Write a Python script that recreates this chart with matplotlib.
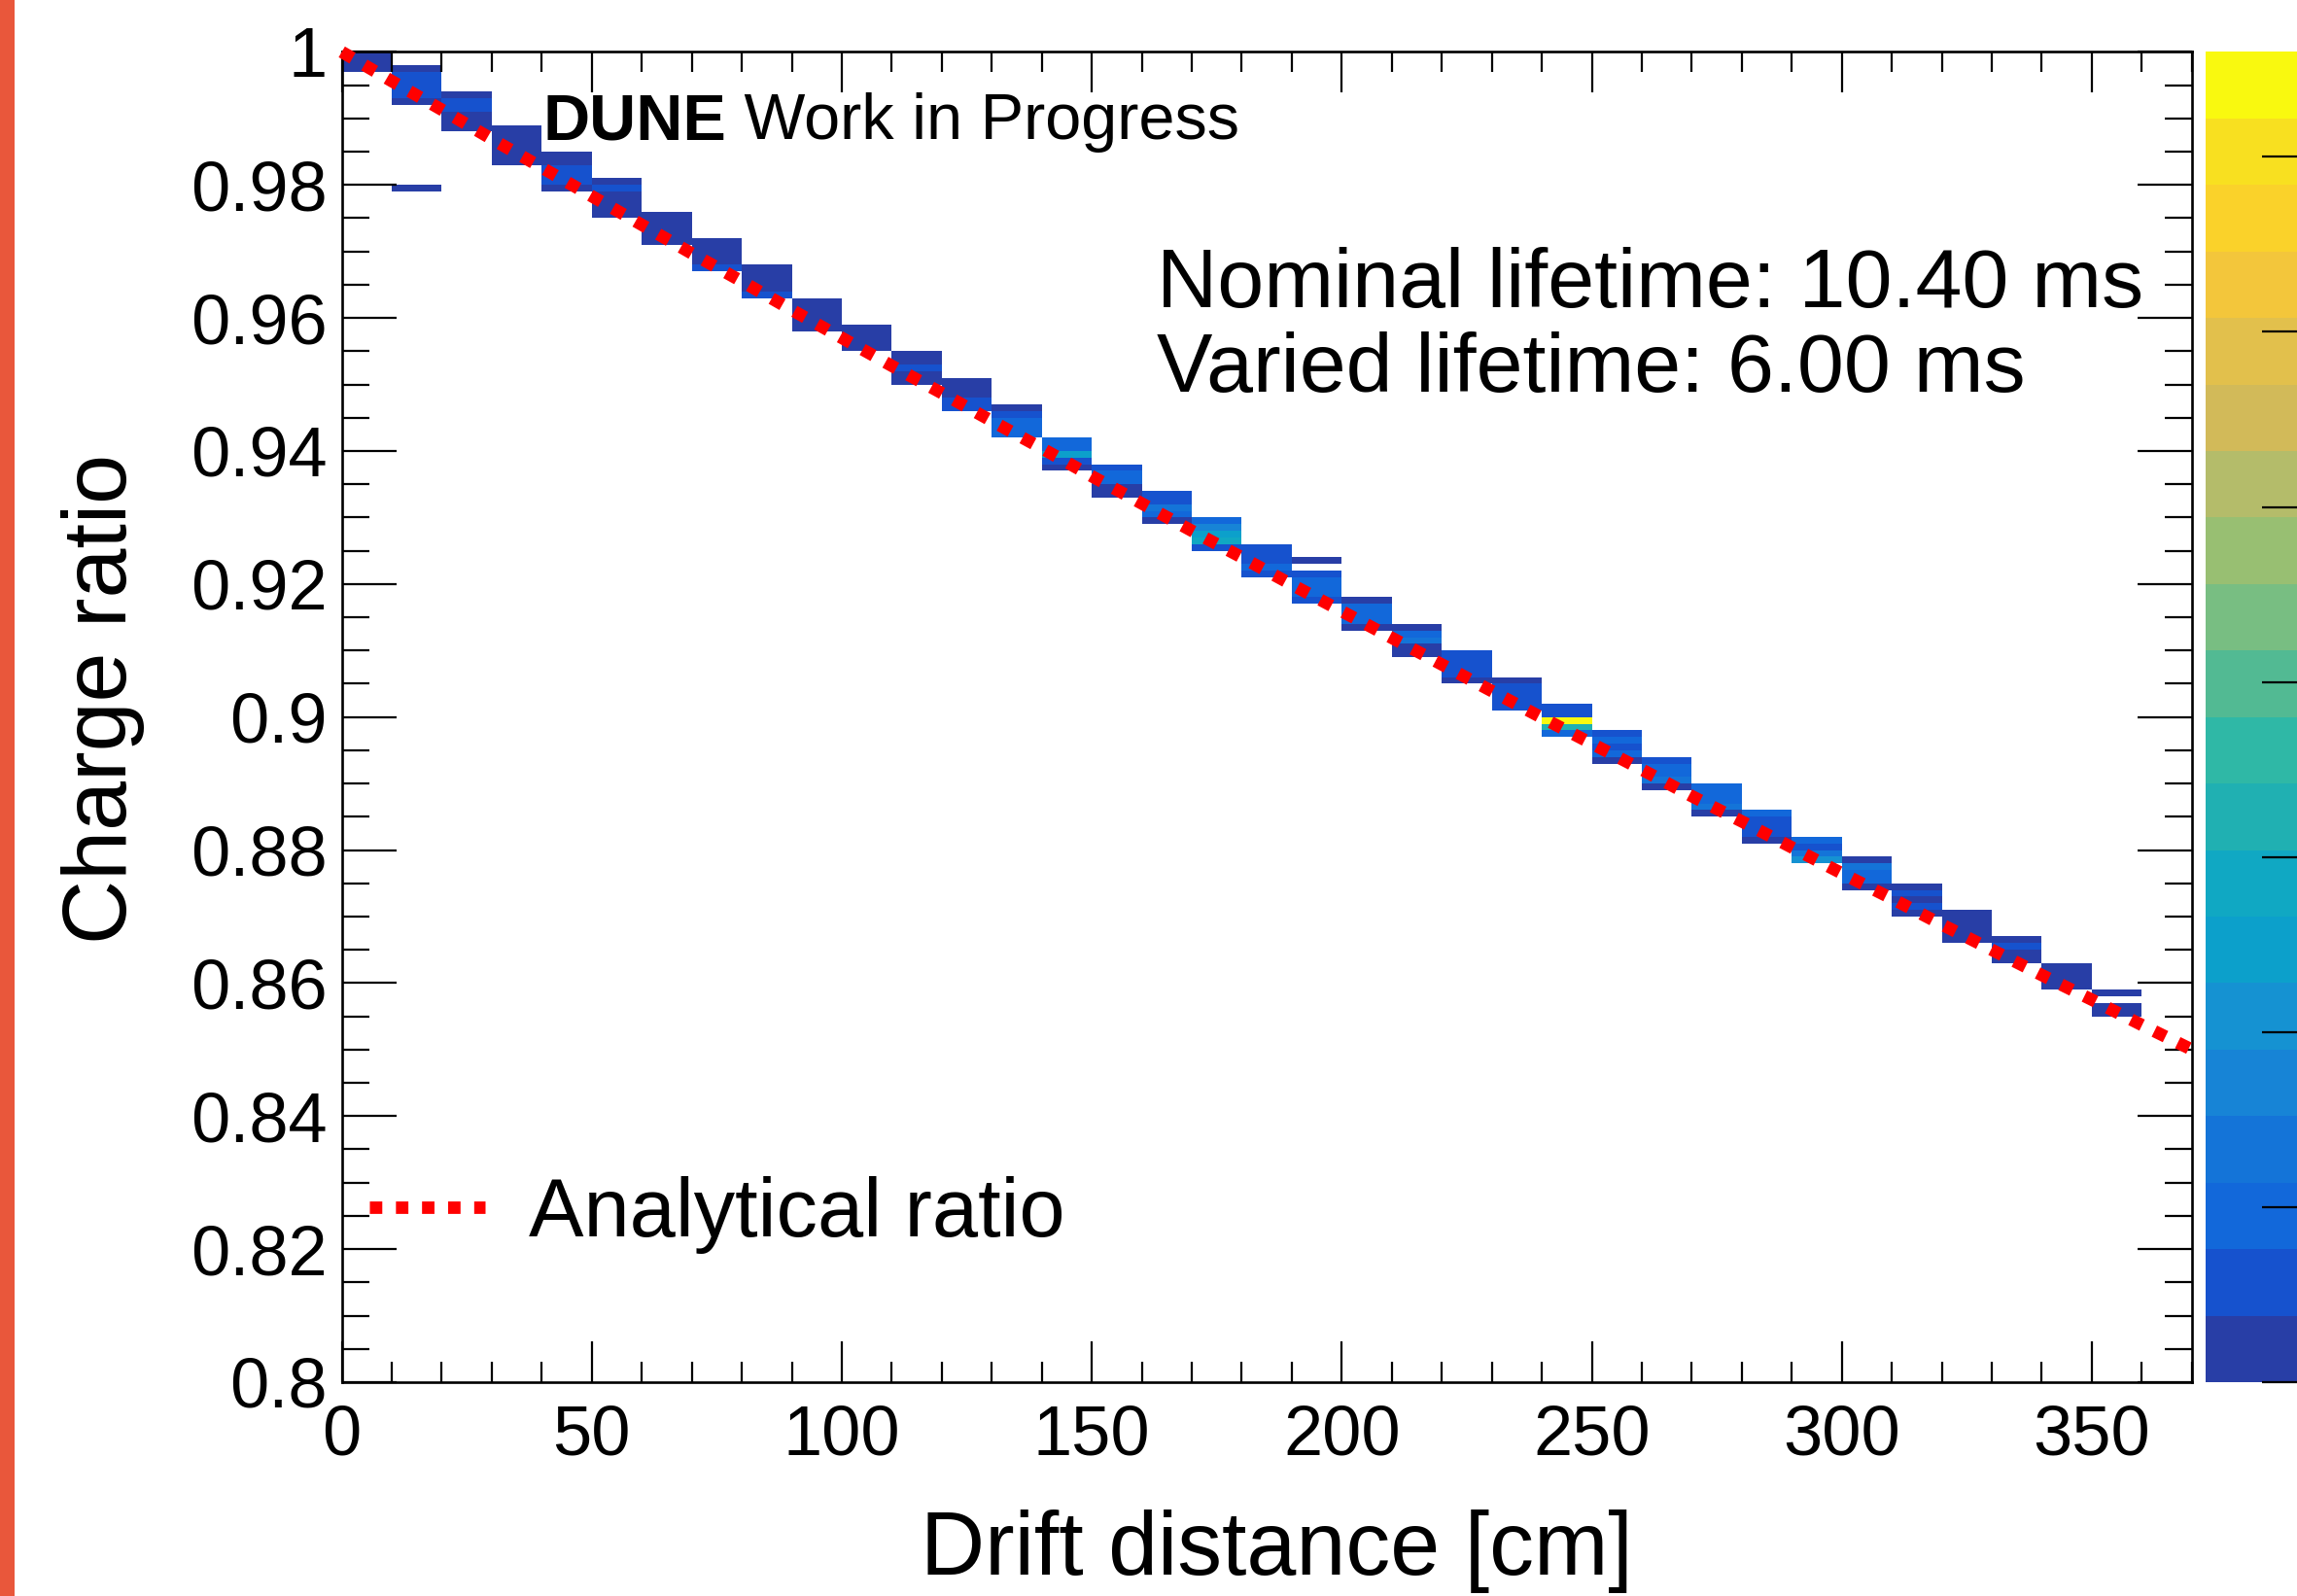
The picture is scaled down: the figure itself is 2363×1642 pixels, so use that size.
#!/usr/bin/env python3
"""Charge ratio vs drift distance (COLZ-style 2D histogram + analytical curve)."""

import numpy as np
import matplotlib
matplotlib.use("Agg")
import matplotlib.pyplot as plt
from matplotlib.colors import ListedColormap, BoundaryNorm
from matplotlib.ticker import FixedLocator, FuncFormatter
from matplotlib.patches import Rectangle

plt.rcParams["font.family"] = ["Liberation Sans", "DejaVu Sans"]

# ============================================================
#  data
# ============================================================
X_BIN_W = 10.0          # cm per x column
Y_BIN_W = 0.001         # charge ratio per y bin
X_RANGE = (0.0, 370.0)
Y_RANGE = (0.8, 1.0)

# top edge of the filled y range for each 10 cm column (0-10, 10-20, ...)
COL_TOP = [1.000, 0.998, 0.994, 0.989, 0.985, 0.981, 0.976, 0.972, 0.968,
           0.963, 0.959, 0.955, 0.951, 0.947, 0.942, 0.938, 0.934, 0.930,
           0.926, 0.924, 0.918, 0.914, 0.910, 0.906, 0.902, 0.898, 0.894,
           0.890, 0.886, 0.882, 0.879, 0.875, 0.871, 0.867, 0.863, 0.859]
# entries per y bin, from the top edge downwards
COL_COUNTS = [
    [1, 1, 1], [1, 2, 2, 2, 2, 1], [1, 2, 2, 1, 1, 1], [1, 1, 1, 1, 1, 1],
    [1, 1, 2, 2, 2, 1], [1, 2, 1, 1, 1, 1], [1, 1, 1, 1, 1], [1, 1, 1, 1, 2],
    [1, 1, 1, 1, 2], [1, 1, 1, 1, 1], [1, 1, 1, 1], [1, 1, 2, 1, 1],
    [1, 1, 1, 2, 2], [1, 2, 4, 4, 4], [4, 4, 13, 2, 1], [2, 4, 5, 1, 1],
    [2, 3, 6, 4, 1], [4, 8, 12, 14, 2], [2, 2, 2, 4, 2], [1, 0, 2, 4, 4, 4, 2],
    [1, 4, 4, 4, 1], [1, 4, 6, 1, 1], [2, 2, 2, 2, 1], [1, 2, 2, 2, 2],
    [2, 3, 38, 16, 4], [2, 4, 2, 4, 1], [2, 4, 5, 6, 1], [4, 5, 4, 6, 1],
    [4, 2, 2, 2, 1], [4, 2, 6, 10], [1, 6, 4, 4, 1], [1, 2, 1, 2, 1],
    [1, 1, 1, 1, 1], [1, 2, 1, 1], [1, 1, 1, 1], [1, 0, 1, 1],
]
# isolated cells: (x low edge [cm], y top edge, entries)
EXTRA_CELLS = [(10.0, 0.980, 1)]
Z_MAX = 38.0

# analytical ratio (red dotted curve)
ANALYTIC_X = [0, 10, 20, 30, 40, 50, 60, 70, 80, 90, 100, 110, 120, 130, 140,
              150, 160, 170, 180, 190, 200, 210, 220, 230, 240, 250, 260, 270,
              280, 290, 300, 310, 320, 330, 340, 350, 360, 370]
ANALYTIC_RATIO = [1.0000, 0.9956, 0.9913, 0.9869, 0.9826, 0.9783, 0.9740,
                  0.9697, 0.9655, 0.9612, 0.9570, 0.9528, 0.9487, 0.9445,
                  0.9404, 0.9362, 0.9321, 0.9280, 0.9240, 0.9199, 0.9159,
                  0.9119, 0.9079, 0.9039, 0.8999, 0.8960, 0.8921, 0.8881,
                  0.8843, 0.8804, 0.8765, 0.8727, 0.8688, 0.8650, 0.8612,
                  0.8575, 0.8537, 0.8500]

NOMINAL_LT = 10.40
VARIED_LT = 6.00

# ROOT kBird palette, 20 contour levels (bottom -> top)
PALETTE = ["#283EA6", "#1652CE", "#1268DA", "#1474D8", "#1784D6", "#1592D2",
           "#0CA0CB", "#10A8C3", "#20B0B2", "#2FB8A6", "#52BA93", "#78BE82",
           "#98BF72", "#B4BC6A", "#D2BA59", "#E2C04C", "#F3C63B", "#FAD22A",
           "#F8E020", "#F9F90F"]

# ============================================================
#  build the histogram
# ============================================================
nx = int(round((X_RANGE[1] - X_RANGE[0]) / X_BIN_W))
ny = int(round((Y_RANGE[1] - Y_RANGE[0]) / Y_BIN_W))
xedges = np.linspace(X_RANGE[0], X_RANGE[1], nx + 1)
yedges = np.linspace(Y_RANGE[0], Y_RANGE[1], ny + 1)
H = np.zeros((ny, nx))


def fill(ix, top, counts):
    jtop = int(round((top - Y_RANGE[0]) / Y_BIN_W))
    for k, c in enumerate(counts):
        H[jtop - 1 - k, ix] += c


for ix, (top, counts) in enumerate(zip(COL_TOP, COL_COUNTS)):
    fill(ix, top, counts)
for x0, top, c in EXTRA_CELLS:
    fill(int(round(x0 / X_BIN_W)), top, [c])

Hm = np.ma.masked_equal(H, 0)   # empty bins are not drawn

# ============================================================
#  figure
# ============================================================
fig = plt.figure(figsize=(23.63, 16.42), dpi=100)
# orange strip on the left edge of the slide
fig.patches.append(Rectangle((0, 0), 15 / 2363, 1, transform=fig.transFigure,
                             facecolor="#E9573B", edgecolor="none", zorder=0))

ax = fig.add_axes([0.1488, 0.134, 0.8054, 0.8335])
cmap = ListedColormap(PALETTE)
cmap.set_over(PALETTE[-1])
norm = BoundaryNorm(np.linspace(0, Z_MAX, len(PALETTE) + 1), len(PALETTE))
mesh = ax.pcolormesh(xedges, yedges, Hm, cmap=cmap, norm=norm,
                     edgecolors="none", zorder=1)

line, = ax.plot(ANALYTIC_X, ANALYTIC_RATIO, color="red", lw=9.2,
                dashes=(1.0, 1.1), dash_capstyle="butt", clip_on=False,
                zorder=3, label="Analytical ratio")

ax.set_xlim(*X_RANGE)
ax.set_ylim(*Y_RANGE)
ax.xaxis.set_major_locator(FixedLocator(np.arange(0, 351, 50)))
ax.xaxis.set_minor_locator(FixedLocator(np.arange(0, 371, 10)))
ax.yaxis.set_major_locator(FixedLocator(np.round(np.arange(0.8, 1.0001, 0.02), 3)))
ax.yaxis.set_minor_locator(FixedLocator(np.round(np.arange(0.8, 1.0001, 0.005), 4)))
fmt = FuncFormatter(lambda v, p: f"{v:g}")
ax.xaxis.set_major_formatter(fmt)
ax.yaxis.set_major_formatter(fmt)
ax.tick_params(axis="x", which="major", direction="in", length=30, width=1.6,
               top=True, labelsize=52, pad=16)
ax.tick_params(axis="x", which="minor", direction="in", length=15, width=1.6,
               top=True)
ax.tick_params(axis="y", which="major", direction="in", length=40, width=1.6,
               right=True, labelsize=52, pad=11)
ax.tick_params(axis="y", which="minor", direction="in", length=20, width=1.6,
               right=True)
for sp in ax.spines.values():
    sp.set_linewidth(1.9)

# "DUNE" bold, rest regular, placed right after it
t_dune = ax.text(0.1085, 0.9345, "DUNE", transform=ax.transAxes, fontsize=48,
                 fontweight="bold", ha="left", va="baseline")
fig.canvas.draw()
bb = t_dune.get_window_extent()
x_after = ax.transAxes.inverted().transform((bb.x1, bb.y0))[0]
ax.text(x_after, 0.9345, " Work in Progress", transform=ax.transAxes,
        fontsize=48, ha="left", va="baseline")

ax.text(0.4407, 0.808, f"Nominal lifetime: {NOMINAL_LT:.2f} ms",
        transform=ax.transAxes, fontsize=62, ha="left", va="baseline")
ax.text(0.4407, 0.7445, f"Varied lifetime: {VARIED_LT:.2f} ms",
        transform=ax.transAxes, fontsize=62, ha="left", va="baseline")

ax.legend(handles=[line], loc="center left", bbox_to_anchor=(0.0149, 0.126),
          frameon=False, fontsize=61, handlelength=1.41, handletextpad=0.53,
          borderpad=0, borderaxespad=0)

fig.text(0.556, 0.0134, "Drift distance [cm]", fontsize=66, ha="center",
         va="baseline")
fig.text(0.0267, 0.5622, "Charge ratio", fontsize=66, rotation=90,
         ha="left", va="center")

# palette (cut off at the right edge like the original)
cax = fig.add_axes([2269 / 2363, 0.134, (2363 - 2269) / 2363, 0.8335])
cb = fig.colorbar(mesh, cax=cax)
cb.outline.set_visible(False)
cb.set_ticks(np.arange(0, 36, 5))
cb.ax.tick_params(direction="in", length=26, width=1.6, right=True,
                  labelright=False)
cb.ax.minorticks_off()

fig.savefig("out.png", dpi=100)
